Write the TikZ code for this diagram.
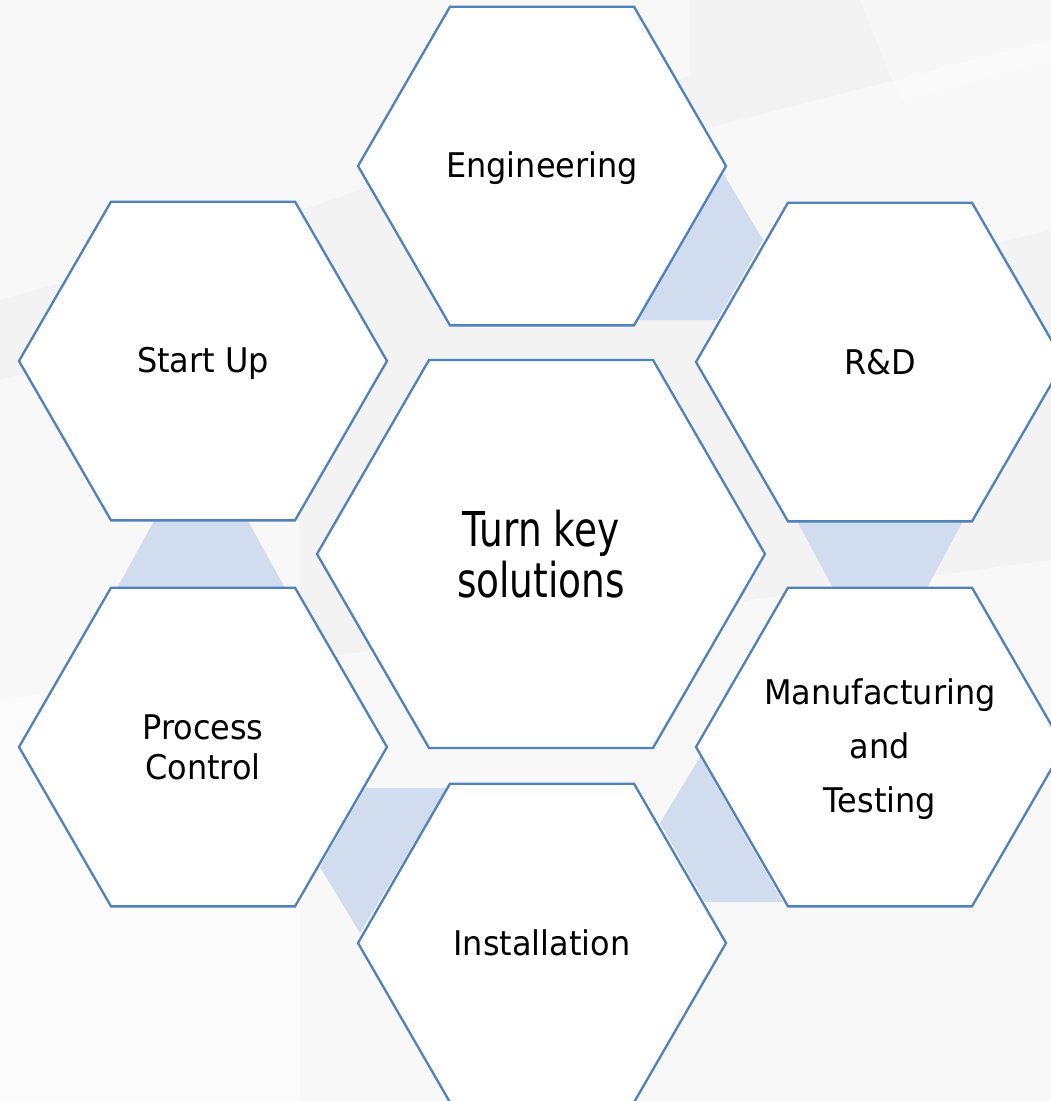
\documentclass[tikz,border=0pt]{standalone}
\usepackage{fontspec}
\setmainfont{DejaVu Sans}[FakeStretch=0.94]
\newfontfamily\centerfont{DejaVu Sans}[FakeStretch=0.78]
\usetikzlibrary{shapes.geometric,calc}
\definecolor{hexblue}{RGB}{79,129,189}
\definecolor{linkblue}{RGB}{209,221,238}
\definecolor{paper}{RGB}{243,243,244}
\newcommand{\hs}{\rule[-6pt]{0pt}{36pt}}
\newcommand{\bs}{\rule[-5pt]{0pt}{45pt}}
\pgfdeclarelayer{bgpaper}
\pgfdeclarelayer{links}
\pgfsetlayers{bgpaper,links,main}
\tikzset{
  hexa/.style={regular polygon, regular polygon sides=6, minimum size=368pt,
    inner sep=0pt, outer sep=0pt, draw=hexblue, line width=2.3pt, fill=white,
    align=center, font=\fontsize{34}{40}\selectfont},
  bighexa/.style={hexa, minimum size=448pt, font=\centerfont\fontsize{48}{40}\selectfont},
  link/.style={fill=linkblue},
  facet/.style={fill=white, opacity=0.45}
}
\begin{document}
\begin{tikzpicture}[x=1pt,y=-1pt]
\useasboundingbox (0,0) rectangle (1051,1101);
\begin{pgfonlayer}{bgpaper}
  \fill[paper] (0,0) rectangle (1051,1101);
  \fill[facet] (0,0) -- (690,0) -- (690,75) -- (230,235) -- (0,300) -- cycle;
  \fill[facet] (0,380) -- (300,300) -- (300,1101) -- (0,1101) -- cycle;
  \fill[facet] (0,700) -- (1051,560) -- (1051,1101) -- (0,1101) -- cycle;
  \fill[facet] (700,130) -- (1051,40) -- (1051,230) -- (760,300) -- cycle;
  \fill[white, opacity=0.4] (860,0) -- (1051,0) -- (1051,60) -- (900,100) -- cycle;
\end{pgfonlayer}

\node[hexa] (eng) at (542,166) {\hs Engineering};
\node[hexa] (su)  at (203,361) {\hs Start Up};
\node[hexa] (rd)  at (880,362) {\hs R\&D};
\node[bighexa] (tk) at (541,554) {\bs Turn key\\\bs solutions};
\node[hexa] (pc)  at (203,747) {\hs Process\\\hs Control};
\node[hexa, font=\fontsize{34}{54}\selectfont] (mt) at (880,747) {\hs\makebox[190pt][c]{Manufacturing}\\\hs and\\\hs Testing};
\node[hexa] (in)  at (542,943) {\hs Installation};

\begin{pgfonlayer}{links}
  \fill[link] ($(eng)+(181,7)$) -- ($(eng)+(221,74)$) -- ($(eng)+(175,154)$) -- ($(eng)+(95,154)$) -- cycle;
  \fill[link] ($(su)+(-49,160)$) -- ($(su)+(45,160)$) -- ($(pc)+(82,-159)$) -- ($(pc)+(-86,-159)$) -- cycle;
  \fill[link] ($(rd)+(-83,159)$) -- ($(rd)+(83,159)$) -- ($(mt)+(47,-159)$) -- ($(mt)+(-47,-159)$) -- cycle;
  \fill[link] ($(pc)+(162,41)$) -- ($(pc)+(244,41)$) -- ($(in)+(-182,-10)$) -- ($(in)+(-222,-76)$) -- cycle;
  \fill[link] ($(in)+(158,-186)$) -- ($(in)+(118,-120)$) -- ($(in)+(163,-41)$) -- ($(in)+(241,-41)$) -- cycle;
\end{pgfonlayer}
\end{tikzpicture}
\end{document}
